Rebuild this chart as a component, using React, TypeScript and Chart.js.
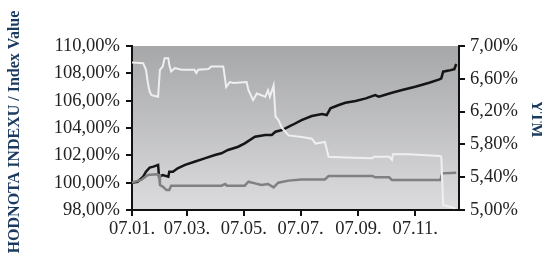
import React, { useEffect, useRef } from "react";
import { Chart, registerables } from "chart.js";

Chart.register(...registerables);

// x axis: days after the first date (07.01.)
const tickDays = [0, 59, 120, 181, 243, 304];
const tickLabels = ["07.01.", "07.03.", "07.05.", "07.07.", "07.09.", "07.11."];
const leftTicks = [98, 100, 102, 104, 106, 108, 110];
const rightTicks = [5, 5.4, 5.8, 6.2, 6.6, 7];
const leftTitle = "HODNOTA INDEXU / Index Value";
const rightTitle = "YTM";

const indexDays = [0, 6, 12, 15, 19, 23, 28, 29, 33, 39, 40, 44, 49, 57, 67, 78, 89, 96, 103, 114, 121, 132, 143, 150, 154, 161, 172, 182, 193, 204, 209, 213, 222, 229, 240, 251, 261, 265, 279, 290, 304, 319, 330, 332, 334, 340, 346, 348];
const indexValues = [100.0, 100.07, 100.44, 100.8, 101.1, 101.17, 101.3, 100.44, 100.56, 100.44, 100.8, 100.8, 101.05, 101.3, 101.53, 101.78, 102.02, 102.15, 102.39, 102.63, 102.88, 103.36, 103.49, 103.49, 103.73, 103.85, 104.22, 104.58, 104.88, 105.02, 104.95, 105.44, 105.68, 105.85, 105.98, 106.17, 106.41, 106.29, 106.58, 106.78, 107.02, 107.31, 107.56, 107.63, 108.12, 108.2, 108.3, 108.68];

const benchDays = [0, 10, 17, 26, 29, 30, 33, 37, 40, 42, 96, 100, 102, 121, 125, 132, 139, 146, 152, 157, 168, 182, 207, 211, 258, 261, 276, 279, 331, 333, 348];
const benchValues = [100.0, 100.2, 100.56, 100.61, 100.56, 99.83, 99.71, 99.46, 99.46, 99.78, 99.78, 99.9, 99.78, 99.78, 100.07, 99.95, 99.83, 99.9, 99.66, 100.0, 100.15, 100.24, 100.24, 100.49, 100.49, 100.39, 100.39, 100.2, 100.2, 100.68, 100.73];

const ytmDays = [0, 12, 15, 17, 19, 21, 28, 30, 33, 35, 39, 40, 42, 46, 53, 67, 69, 71, 82, 85, 98, 100, 101, 105, 109, 123, 125, 130, 134, 139, 143, 146, 148, 152, 154, 157, 161, 168, 182, 193, 197, 207, 211, 229, 258, 260, 276, 279, 280, 297, 330, 332, 334, 347];
const ytmValues = [6.8, 6.79, 6.71, 6.55, 6.44, 6.4, 6.38, 6.71, 6.75, 6.85, 6.85, 6.77, 6.69, 6.73, 6.71, 6.71, 6.67, 6.71, 6.72, 6.75, 6.75, 6.59, 6.5, 6.56, 6.55, 6.56, 6.46, 6.34, 6.42, 6.4, 6.38, 6.46, 6.38, 6.52, 6.14, 6.1, 6.0, 5.91, 5.89, 5.87, 5.81, 5.83, 5.65, 5.64, 5.63, 5.65, 5.65, 5.61, 5.68, 5.68, 5.66, 5.65, 5.06, 5.02];

const pct = (v: number) => v.toFixed(2).replace(".", ",") + "%";
const toXY = (xs: number[], ys: number[]) => xs.map((x, i) => ({ x, y: ys[i] }));

const serif = "'Liberation Serif', 'Times New Roman', serif";
const titleColor = "#1b3a5f";

const bgPlugin = {
  id: "plotBg",
  beforeDraw(chart: any) {
    const { ctx, chartArea: a } = chart;
    const g = ctx.createLinearGradient(0, a.top, 0, a.bottom);
    g.addColorStop(0, "#a6a7a9");
    g.addColorStop(1, "#dcdcde");
    ctx.save();
    ctx.fillStyle = g;
    ctx.fillRect(a.left, a.top, a.right - a.left, a.bottom - a.top);
    ctx.restore();
  },
};

const titlePlugin = {
  id: "axisTitles",
  afterDraw(chart: any) {
    const { ctx, width } = chart;
    ctx.save();
    ctx.fillStyle = titleColor;
    ctx.font = `bold 16px ${serif}`;
    ctx.textAlign = "center";
    ctx.textBaseline = "middle";
    ctx.save();
    ctx.translate(15, 132);
    ctx.rotate(-Math.PI / 2);
    ctx.fillText(leftTitle, 0, 0);
    ctx.restore();
    ctx.save();
    ctx.translate(width - 5.5, 119);
    ctx.rotate(Math.PI / 2);
    ctx.fillText(rightTitle, 0, 0);
    ctx.restore();
    ctx.restore();
  },
};

const tickFont = { family: serif, size: 18.5 };
const axisGrid = { drawOnChartArea: false, drawTicks: true, tickLength: 6, color: "#111", lineWidth: 2 };

export default function App() {
  const ref = useRef<HTMLCanvasElement>(null);
  useEffect(() => {
    if (!ref.current) return;
    const chart = new Chart(ref.current, {
      type: "line",
      data: {
        datasets: [
          {
            label: "YTM",
            data: toXY(ytmDays, ytmValues),
            yAxisID: "y1",
            borderColor: "#efefef",
            borderWidth: 2,
            pointRadius: 0,
            tension: 0,
          },
          {
            label: "Benchmark",
            data: toXY(benchDays, benchValues),
            yAxisID: "y",
            borderColor: "#808082",
            borderWidth: 2.5,
            pointRadius: 0,
            tension: 0,
          },
          {
            label: "Index Value",
            data: toXY(indexDays, indexValues),
            yAxisID: "y",
            borderColor: "#151515",
            borderWidth: 2.5,
            pointRadius: 0,
            tension: 0,
          },
        ],
      },
      options: {
        animation: false,
        responsive: false,
        layout: { padding: { top: 46, left: 0, right: 0, bottom: 0 } },
        plugins: { legend: { display: false }, tooltip: { enabled: false } },
        scales: {
          x: {
            type: "linear",
            min: 0,
            max: 351,
            grid: axisGrid,
            border: { color: "#111", width: 2 },
            afterBuildTicks: (axis: any) => {
              axis.ticks = tickDays.map((v) => ({ value: v }));
            },
            afterFit: (axis: any) => {
              axis.height = 49;
            },
            ticks: {
              font: tickFont,
              color: "#222",
              padding: 2,
              maxRotation: 0,
              autoSkip: false,
              callback: (v: any) => {
                const i = tickDays.indexOf(Number(v));
                return i >= 0 ? tickLabels[i] : "";
              },
            },
          },
          y: {
            position: "left",
            min: 98,
            max: 110,
            grid: axisGrid,
            border: { color: "#111", width: 2 },
            afterBuildTicks: (axis: any) => {
              axis.ticks = leftTicks.map((v) => ({ value: v }));
            },
            afterFit: (axis: any) => {
              axis.width = 132;
            },
            ticks: { font: tickFont, color: "#222", padding: 6, callback: (v: any) => pct(Number(v)) },
          },
          y1: {
            position: "right",
            min: 5,
            max: 7,
            grid: axisGrid,
            border: { color: "#111", width: 2 },
            afterBuildTicks: (axis: any) => {
              axis.ticks = rightTicks.map((v) => ({ value: v }));
            },
            afterFit: (axis: any) => {
              axis.width = 83;
            },
            ticks: { font: tickFont, color: "#222", padding: 5, callback: (v: any) => pct(Number(v)) },
          },
        },
      },
      plugins: [bgPlugin, titlePlugin],
    } as any);
    return () => chart.destroy();
  }, []);
  return (
    <div style={{ position: "absolute", left: 0, top: 0, width: 542, height: 259 }}>
      <canvas ref={ref} width={542} height={259} style={{ display: "block" }} />
    </div>
  );
}
